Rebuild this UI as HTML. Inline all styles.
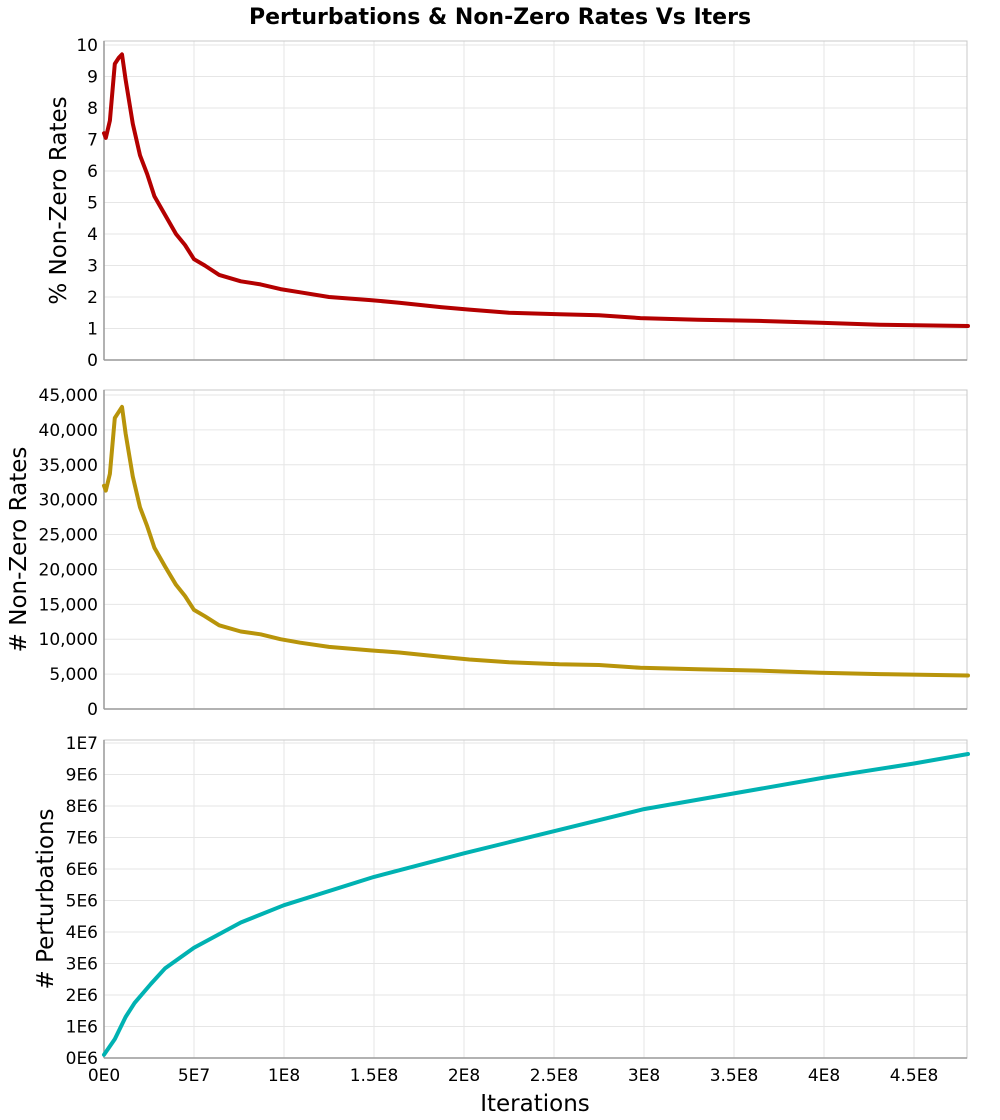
<!DOCTYPE html>
<html><head><meta charset="utf-8"><style>
body{margin:0;background:#fff;}
svg{display:block;font-family:"DejaVu Sans","Liberation Sans",sans-serif;}
</style></head><body>
<svg id="chart" width="1000" height="1120" viewBox="0 0 1000 1120">
<text x="500" y="24" text-anchor="middle" font-size="22" font-weight="bold">Perturbations &amp; Non-Zero Rates Vs Iters</text>
<g id="g"></g>
<text x="535" y="1111" text-anchor="middle" font-size="23">Iterations</text>
</svg>
<script>
// x values in units of 1E7 iterations
const xPct = [0,0.1,0.33,0.6,0.83,1.0,1.2,1.6,2.0,2.4,2.8,3.4,4.0,4.5,5.0,5.6,6.4,7.6,8.7,9.8,10.9,12.5,14.8,16.4,18.7,20.3,22.5,25.3,27.5,29.8,33,36.4,39.8,43.1,48];
const pctVals = [7.2,7.05,7.6,9.4,9.6,9.7,8.9,7.5,6.5,5.9,5.2,4.6,4.0,3.65,3.2,3.0,2.7,2.5,2.4,2.25,2.15,2.0,1.9,1.82,1.68,1.6,1.5,1.45,1.42,1.33,1.28,1.24,1.18,1.12,1.08];
const cntVals = [32000,31300,33700,41700,42600,43300,39500,33300,28900,26200,23100,20400,17800,16200,14200,13300,12000,11100,10700,10000,9500,8900,8400,8100,7500,7100,6700,6400,6300,5900,5700,5500,5200,5000,4800];
const xPert = [0,0.6,1.2,1.7,2.6,3.4,5.0,7.6,10,15,20,25,30,35,40,45,48];
const pertVals = [0.1,0.6,1.3,1.75,2.35,2.85,3.5,4.3,4.85,5.75,6.5,7.2,7.9,8.4,8.9,9.35,9.65];
const xTicks = ["0E0","5E7","1E8","1.5E8","2E8","2.5E8","3E8","3.5E8","4E8","4.5E8"];
const pctTicks = [0,1,2,3,4,5,6,7,8,9,10];
const cntTicks = [0,5000,10000,15000,20000,25000,30000,35000,40000,45000];
const pertTicks = [0,1,2,3,4,5,6,7,8,9,10];

const NS="http://www.w3.org/2000/svg";
const g=document.getElementById('g');
const L=104,R=967;
const xs=v=>L+v/5*90; // v in 1E7
function mk(t,a,p){const e=document.createElementNS(NS,t);for(const k in a)e.setAttribute(k,a[k]);(p||g).appendChild(e);return e;}
const panels=[
 {top:41,bot:360,maxV:10,maxY:45,ticks:pctTicks,fmt:v=>String(v),xsA:xPct,ys:pctVals,color:"#b40000",title:"% Non-Zero Rates",tx:58,name:"pct"},
 {top:390,bot:709,maxV:45000,maxY:395,ticks:cntTicks,fmt:v=>v.toLocaleString('en-US'),xsA:xPct,ys:cntVals,color:"#b8940a",title:"# Non-Zero Rates",tx:18,name:"count"},
 {top:740,bot:1058,maxV:10,maxY:743,ticks:pertTicks,fmt:v=>v===10?"1E7":v+"E6",xsA:xPert,ys:pertVals,color:"#00b2b2",title:"# Perturbations",tx:45,name:"perturbations"}
];
panels.forEach((p,pi)=>{
 const y=v=>p.bot-(v/p.maxV)*(p.bot-p.maxY);
 const pg=mk('g',{});
 
 
 mk('rect',{x:L,y:p.top,width:R-L,height:p.bot-p.top,fill:'#fff',stroke:'none'},pg);
 p.ticks.forEach(t=>{
  const yy=y(t);
  const gl=mk('line',{x1:L,x2:R,y1:yy,y2:yy,stroke:'#e6e6e6','stroke-width':1},pg);
  
  
  const tl=mk('text',{x:L-6,y:yy+6,'text-anchor':'end','font-size':17},pg);
  tl.textContent=p.fmt(t);
  
  
 });
 xTicks.forEach((t,i)=>{
  const xx=xs(i*5);
  if(i>0){const gl=mk('line',{x1:xx,x2:xx,y1:p.top,y2:p.bot,stroke:'#e6e6e6','stroke-width':1},pg);
  
  }
  if(pi===2){const tl=mk('text',{x:xx,y:1081,'text-anchor':'middle','font-size':17},pg);
   tl.textContent=t;
   
   }
 });
 mk('rect',{x:L,y:p.top,width:R-L,height:p.bot-p.top,fill:'none',stroke:'#c8c8c8','stroke-width':1},pg);
 mk('line',{x1:L,x2:L,y1:p.top,y2:p.bot,stroke:'#999','stroke-width':1.5},pg);
 mk('line',{x1:L,x2:R,y1:p.bot,y2:p.bot,stroke:'#999','stroke-width':1.5},pg);
 const cx=(p.top+p.bot)/2;
 const at=mk('text',{x:p.tx,y:cx,'text-anchor':'middle','font-size':23,transform:`rotate(-90 ${p.tx} ${cx})`,dy:8},pg);
 at.textContent=p.title;
 
 
 const d=p.xsA.map((v,i)=>(i?'L':'M')+xs(v).toFixed(1)+','+y(p.ys[i]).toFixed(1)).join('');
 const ln=mk('path',{d:d,fill:'none',stroke:p.color,'stroke-width':4,'stroke-linejoin':'round','stroke-linecap':'round'},pg);
 
 
});
</script>
</body></html>
